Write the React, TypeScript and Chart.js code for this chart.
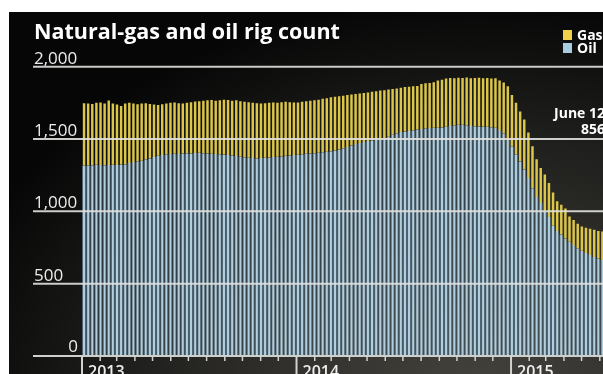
import React, { useEffect, useRef } from "react";
import { Chart, registerables } from "chart.js";
Chart.register(...registerables);

const title = "Natural-gas and oil rig count";
const legendLabels = ["Gas", "Oil"];
const yTicks = [0, 500, 1000, 1500, 2000];
const yearLabels = ["2013", "2014", "2015"];
const noteLines = ["June 12", "856"];

const oil = [
  1316, 1319, 1318, 1322, 1320, 1318, 1320, 1322, 1321, 1324, 1326,
  1335, 1342, 1346, 1350, 1360, 1366, 1375,
  1385, 1390, 1394, 1396, 1398, 1396, 1400, 1402, 1400, 1403, 1405, 1402, 1400, 1398, 1397, 1395, 1393, 1390,
  1386, 1382, 1378, 1374, 1370, 1368, 1366, 1368, 1370, 1372, 1375, 1378, 1380, 1384, 1386, 1390,
  1392, 1395, 1398, 1400, 1402, 1405, 1408, 1412, 1416,
  1420, 1428, 1436, 1445, 1455,
  1465, 1472, 1480, 1486, 1490,
  1495, 1500, 1505, 1515, 1530, 1540,
  1548, 1552, 1555, 1560, 1565,
  1570, 1574, 1576, 1578, 1578, 1580, 1585,
  1590, 1595, 1598, 1598, 1595,
  1590, 1588, 1586, 1586, 1584, 1582, 1578,
  1562, 1540, 1505,
  1450, 1395, 1345, 1290, 1230, 1160, 1100, 1058, 1000, 961, 900, 865,
  840, 812, 790, 768, 745, 728, 712, 698, 685, 674, 664, 656,
];

const gas = [
  432, 426, 424, 428, 432, 428, 446, 423, 417, 404, 419, 415, 403, 394, 395, 388, 376, 363,
  350, 350, 351, 354, 354, 352, 345, 348, 355, 357, 357, 363, 368, 372, 368, 373, 379, 380,
  379, 386, 384, 384, 385, 382, 382, 377, 378, 378, 377, 372, 375, 374, 369, 362,
  360, 363, 364, 365, 366, 367, 370, 370, 372, 372, 367, 364, 360, 353, 347, 343, 338, 336,
  336, 335, 335, 333, 327, 316, 310, 307, 308, 307, 304, 301, 310, 311, 312, 314, 327, 330,
  333, 332, 325, 326, 324, 330, 330, 334, 338, 334, 338, 336, 342, 343, 350, 360,
  355, 355, 345, 345, 315, 290, 260, 242, 255, 235, 230, 205,
  205, 208, 175, 172, 170, 167, 174, 182, 187, 191, 196, 200,
];

const DAY = 864e5;
const firstWeekEnd = Date.UTC(2013, 0, 4);
const weekEnding = oil.map((_, i) => new Date(firstWeekEnd + i * 7 * DAY).toISOString().slice(0, 10));

const FONT = "'Open Sans', 'DejaVu Sans', sans-serif";
const GAS_COLOR = "#dcc64a";
const OIL_COLOR = "#b2cddb";
const OIL_GAP = "#4a6272";

const decor = {
  id: "decor",
  afterDatasetsDraw(chart: any) {
    const { ctx, scales } = chart;
    const xs = scales.x;
    const ys = scales.y;
    const W = chart.width;
    const H = chart.height;
    ctx.save();

    yTicks.forEach((v) => {
      const py = ys.getPixelForValue(v);
      ctx.strokeStyle = v === 0 ? "#cfcfcc" : "rgba(225,225,222,0.9)";
      ctx.lineWidth = 2;
      ctx.beginPath();
      ctx.moveTo(33, py);
      ctx.lineTo(W, py);
      ctx.stroke();
      ctx.fillStyle = "#ececec";
      ctx.font = `17px ${FONT}`;
      ctx.textBaseline = "alphabetic";
      const txt = v.toLocaleString("en-US");
      if (v === 0) {
        ctx.textAlign = "right";
        ctx.fillText(txt, 78, py - 4);
      } else {
        ctx.textAlign = "left";
        ctx.fillText(txt, 34, py - 3);
      }
    });

    const w = (xs.right - xs.left) / weekEnding.length;
    const day0 = Date.UTC(2013, 0, 1);
    const lastT = firstWeekEnd + (weekEnding.length - 1) * 7 * DAY;
    const px = (t: number) => xs.left + ((t - day0) / DAY / 7) * w;
    const base = ys.getPixelForValue(0);
    for (let yr = 2013; yr <= 2015; yr++) {
      for (let m = 0; m < 12; m++) {
        const t = Date.UTC(yr, m, 1);
        if (t > lastT) break;
        const xx = px(t);
        ctx.strokeStyle = "#d2d2cf";
        if (m === 0) {
          ctx.lineWidth = 2;
          ctx.beginPath();
          ctx.moveTo(xx, base);
          ctx.lineTo(xx, H);
          ctx.stroke();
          ctx.fillStyle = "#eeeeee";
          ctx.font = `600 16px ${FONT}`;
          ctx.textAlign = "left";
          ctx.fillText(yearLabels[yr - 2013], xx + 6, 377);
        } else {
          ctx.lineWidth = 1.5;
          ctx.beginPath();
          ctx.moveTo(xx, base);
          ctx.lineTo(xx, base + 5);
          ctx.stroke();
        }
      }
    }

    ctx.fillStyle = "#ffffff";
    ctx.font = `bold 21.5px ${FONT}`;
    ctx.textAlign = "left";
    ctx.fillText(title, 34, 39);

    const legendColors = ["#f0d24a", "#a9cde0"];
    legendLabels.forEach((lab, i) => {
      ctx.fillStyle = legendColors[i];
      ctx.fillRect(563, 30 + i * 13, 9, 10);
      ctx.fillStyle = "#ffffff";
      ctx.font = `bold 14px ${FONT}`;
      ctx.textAlign = "left";
      ctx.fillText(lab, 577, 40 + i * 13);
    });

    ctx.fillStyle = "#ffffff";
    ctx.font = `bold 14px ${FONT}`;
    ctx.textAlign = "right";
    ctx.fillText(noteLines[0], 605, 118);
    ctx.fillText(noteLines[1], 605, 134);

    ctx.restore();
  },
};

export default function App() {
  const ref = useRef<HTMLCanvasElement>(null);
  useEffect(() => {
    const chart = new Chart(ref.current as HTMLCanvasElement, {
      type: "bar",
      data: {
        labels: weekEnding,
        datasets: [
          {
            label: "Oil",
            data: oil,
            backgroundColor: OIL_COLOR,
            borderColor: OIL_GAP,
            borderWidth: { left: 1, right: 1, top: 0, bottom: 0 } as any,
            barPercentage: 1,
            categoryPercentage: 1,
            inflateAmount: 0,
            stack: "s",
          },
          {
            label: "Gas",
            data: gas,
            backgroundColor: GAS_COLOR,
            borderWidth: 0,
            barPercentage: 0.6,
            categoryPercentage: 1,
            inflateAmount: 0,
            stack: "s",
          },
        ],
      },
      options: {
        responsive: false,
        animation: false,
        devicePixelRatio: 1,
        layout: { padding: { left: 82, right: 11.4, top: 66.7, bottom: 18 } },
        scales: {
          x: { stacked: true, display: false },
          y: { stacked: true, display: false, min: 0, max: 2000 },
        },
        plugins: { legend: { display: false }, tooltip: { enabled: false } },
      },
      plugins: [decor],
    });
    return () => chart.destroy();
  }, []);

  return (
    <div
      style={{
        position: "fixed",
        left: 0,
        top: 0,
        width: 603,
        height: 374,
        overflow: "hidden",
        background: "#ffffff",
      }}
    >
      <div
        style={{
          position: "absolute",
          left: 9,
          top: 12,
          width: 600,
          height: 370,
          background:
            "radial-gradient(ellipse 95% 110% at 78% 100%, #42413c 0%, #33322e 30%, #1e1e1c 62%, #060606 95%)",
        }}
      />
      <canvas
        ref={ref}
        width={620}
        height={374}
        style={{ position: "absolute", left: 0, top: 0, width: 620, height: 374 }}
      />
    </div>
  );
}
